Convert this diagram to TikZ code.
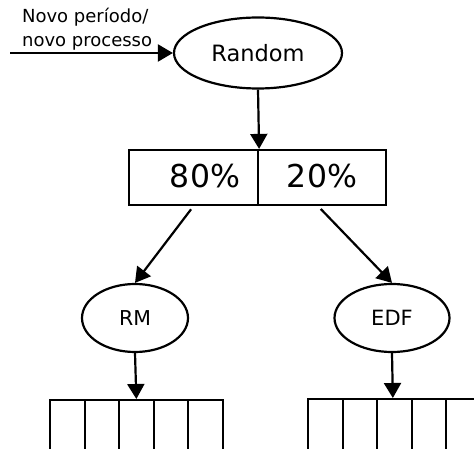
\documentclass[tikz,border=0pt]{standalone}
\usepackage{fontspec}
\setmainfont{DejaVu Sans}
\usetikzlibrary{shapes.geometric,arrows.meta,calc}
\begin{document}
\begin{tikzpicture}[x=1pt,y=-1pt,
  line width=2.2pt,
  oval/.style={draw, ellipse, inner sep=0pt},
  cellbox/.style={draw, rectangle, inner sep=0pt},
  qcell/.style={draw, rectangle, inner sep=0pt, minimum width=34.5, minimum height=60, anchor=north west},
  flow/.style={-{Triangle[length=15pt,width=17pt]}},
  pct/.style={font=\fontsize{31.5}{36}\selectfont, inner sep=0pt}
]
\clip (0,0) rectangle (474,449);
\useasboundingbox (0,0) rectangle (474,449);

% scheduler selection
\node[oval, minimum width=168, minimum height=71, font=\fontsize{22.5}{26}\selectfont] (random) at (258,53) {Random};
\coordinate (in) at (10,53);
\node[anchor=west, align=left, inner sep=0pt, font=\fontsize{18}{24}\selectfont] (lbl) at (21,29) {Novo período/\\novo processo};
\draw[flow] (in) -- (random.west);

% split of the processes
\node[cellbox, minimum width=129, minimum height=55] (c80) at (193.5,177.5) {};
\node[cellbox, minimum width=128, minimum height=55] (c20) at (322,177.5) {};
\node[pct] (t80) at (205,176) {80\%};
\node[pct] (t20) at (322,176) {20\%};
\draw[flow] (random.south) -- (c80.north east);

% schedulers
\node[oval, minimum width=106, minimum height=68, font=\fontsize{20.5}{24}\selectfont] (rm) at (135,318) {RM};
\node[oval, minimum width=115, minimum height=68, font=\fontsize{21}{24}\selectfont] (edf) at (392,318) {EDF};
\draw[flow, shorten <=4pt] (c80.south) -- (rm.north);
\draw[flow, shorten <=4pt] ($(c20.south)+(-4,0)$) -- (edf.north);

% ready queues
\foreach \i/\x in {1/49,2/83.5,3/118,4/152.5,5/187}
  \node[qcell] (l\i) at (\x,399) {};
\foreach \i/\x in {1/307,2/341.5,3/376,4/410.5,5/445}
  \node[qcell] (r\i) at (\x,398) {};
\draw[flow] (rm.south) -- (l3.north);
\draw[flow] (edf.south) -- ($(r3.north)+(-1.5,0)$);
\end{tikzpicture}
\end{document}
